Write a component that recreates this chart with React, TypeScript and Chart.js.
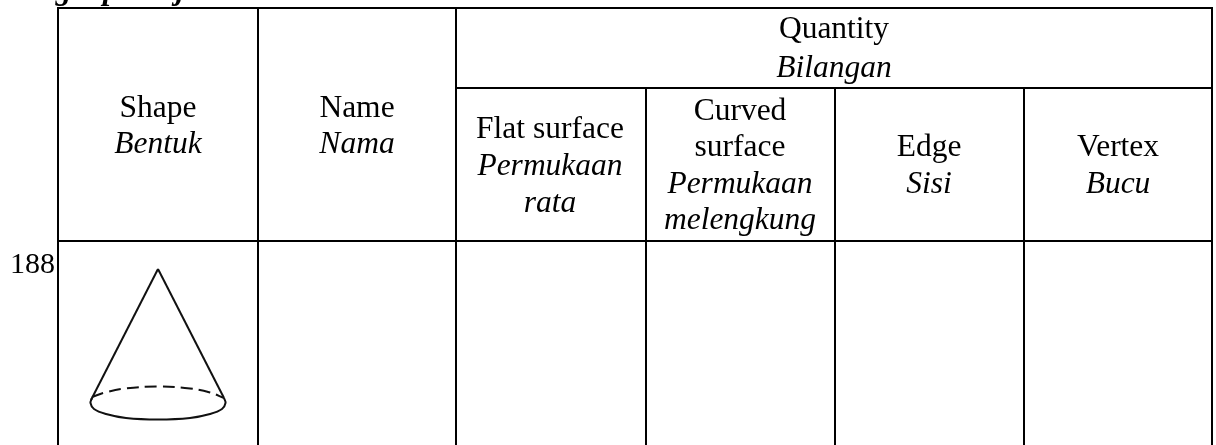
import React, { useEffect, useRef } from "react";
import { Chart, registerables } from "chart.js";

Chart.register(...registerables);

const WIDTH = 1216;
const HEIGHT = 445;

// Table rules, in the reference's own units
const columnEdges = [58, 258, 456, 646, 835, 1024, 1212];
const rowTop = 8;
const rowQuantity = 88;
const rowHeader = 241;
const rowBottom = 445;

// Cone outline
const coneLeftSide = [{ x: 158, y: 269 }, { x: 91, y: 400 }];
const coneRightSide = [{ x: 158, y: 269 }, { x: 224, y: 398 }];
const coneFrontArc = [
  { x: 92, y: 398 }, { x: 90.5, y: 403 }, { x: 94, y: 409 }, { x: 106, y: 414 },
  { x: 126, y: 418 }, { x: 158, y: 419.5 }, { x: 190, y: 418 }, { x: 210, y: 414 },
  { x: 222, y: 409 }, { x: 225.5, y: 403 }, { x: 224, y: 398 },
];
const coneBackArc = [
  { x: 92, y: 397 }, { x: 105, y: 392.5 }, { x: 125, y: 388.5 }, { x: 158, y: 386.5 },
  { x: 190, y: 388.5 }, { x: 210, y: 392.5 }, { x: 224, y: 398 },
];

// Table text
type Label = { text: string; x: number; y: number; italic?: boolean; align?: CanvasTextAlign; bold?: boolean; size?: number };
const labels: Label[] = [
  { text: "Lengkapkan jadual", x: 5, y: -1, italic: true, bold: true, align: "left" },
  { text: "Shape", x: 158, y: 117 },
  { text: "Bentuk", x: 158, y: 153, italic: true },
  { text: "Name", x: 357, y: 117 },
  { text: "Nama", x: 357, y: 153, italic: true },
  { text: "Quantity", x: 834, y: 38 },
  { text: "Bilangan", x: 834, y: 77, italic: true },
  { text: "Flat surface", x: 550, y: 138 },
  { text: "Permukaan", x: 550, y: 175, italic: true },
  { text: "rata", x: 550, y: 212, italic: true },
  { text: "Curved", x: 740, y: 120 },
  { text: "surface", x: 740, y: 156 },
  { text: "Permukaan", x: 740, y: 193, italic: true },
  { text: "melengkung", x: 740, y: 229, italic: true },
  { text: "Edge", x: 929, y: 156 },
  { text: "Sisi", x: 929, y: 193, italic: true },
  { text: "Vertex", x: 1118, y: 156 },
  { text: "Bucu", x: 1118, y: 193, italic: true },
  { text: "188", x: 55, y: 273, align: "right", size: 30 },
];

function rule(x1: number, y1: number, x2: number, y2: number) {
  return {
    data: [{ x: x1, y: y1 }, { x: x2, y: y2 }],
    showLine: true, borderColor: "#000", borderWidth: 2, pointRadius: 0, tension: 0, clip: false,
  };
}

function outline(data: { x: number; y: number }[], dash: number[] = [], tension = 0) {
  return {
    data, showLine: true, borderColor: "#111", borderWidth: 2, borderDash: dash,
    pointRadius: 0, tension, clip: false,
  };
}

const textPlugin = {
  id: "tableText",
  afterDatasetsDraw(chart: any) {
    const { ctx, scales } = chart;
    ctx.save();
    ctx.fillStyle = "#000";
    ctx.textBaseline = "alphabetic";
    for (const l of labels) {
      ctx.font = `${l.italic ? "italic " : ""}${l.bold ? "bold " : ""}${l.size ?? 31.5}px "Liberation Serif"`;
      ctx.textAlign = l.align ?? "center";
      ctx.fillText(l.text, scales.x.getPixelForValue(l.x), scales.y.getPixelForValue(l.y));
    }
    ctx.restore();
  },
};

export default function App() {
  const ref = useRef<HTMLCanvasElement>(null);
  useEffect(() => {
    const left = columnEdges[0];
    const right = columnEdges[columnEdges.length - 1];
    const datasets: any[] = [
      rule(left - 1, rowTop, right + 1, rowTop),
      rule(columnEdges[2], rowQuantity, right + 1, rowQuantity),
      rule(left - 1, rowHeader, right + 1, rowHeader),
      ...columnEdges.map((x, i) =>
        rule(x, i >= 3 && i <= 5 ? rowQuantity : rowTop, x, rowBottom)
      ),
      outline(coneLeftSide),
      outline(coneRightSide),
      outline(coneFrontArc, [], 0.4),
      outline(coneBackArc, [12, 6], 0.4),
    ];
    const chart = new Chart(ref.current!, {
      type: "scatter",
      data: { datasets },
      options: {
        animation: false,
        responsive: false,
        events: [],
        layout: { padding: 0 },
        plugins: { legend: { display: false }, tooltip: { enabled: false }, title: { display: false } },
        scales: {
          x: { type: "linear", min: 0, max: WIDTH, display: false },
          y: { type: "linear", min: 0, max: HEIGHT, reverse: true, display: false },
        },
      },
      plugins: [textPlugin],
    });
    return () => chart.destroy();
  }, []);
  return (
    <canvas
      ref={ref}
      width={WIDTH}
      height={HEIGHT}
      style={{ position: "absolute", left: 0, top: 0, width: WIDTH, height: HEIGHT, background: "#fff" }}
    />
  );
}
